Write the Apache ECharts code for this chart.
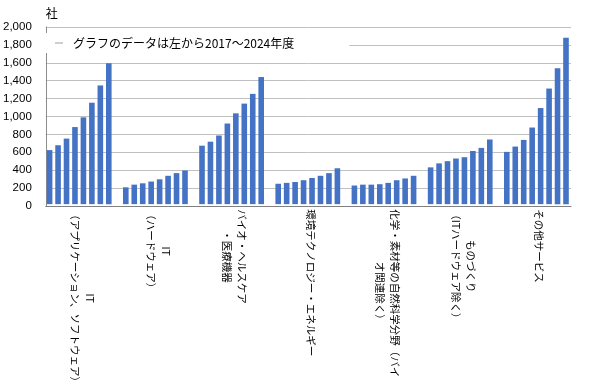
<!DOCTYPE html>
<html>
<head>
<meta charset="utf-8">
<script src="https://cdn.jsdelivr.net/npm/echarts/dist/echarts.min.js"></script>
<style>
html,body{margin:0;padding:0;background:#fff;}
#chart{width:600px;height:390px;}
</style>
</head>
<body>
<div id="chart"></div>
<script>
// ---- data ----
const categories = [
  'IT\n（アプリケーション、ソフトウェア）',
  'IT\n（ハードウェア）',
  'バイオ・ヘルスケア\n・医療機器',
  '環境テクノロジー・エネルギー',
  '化学・素材等の自然科学分野（バイ\nオ関連除く）',
  'ものづくり\n（ITハードウェア除く）',
  'その他サービス'
];
const years = ['2017', '2018', '2019', '2020', '2021', '2022', '2023', '2024'];
const itSoftware = [610, 665, 740, 870, 980, 1145, 1340, 1590];
const itHardware = [190, 220, 235, 255, 280, 320, 350, 380];
const bioHealth = [660, 705, 775, 910, 1025, 1135, 1245, 1435];
const envEnergy = [230, 240, 250, 270, 295, 320, 350, 405];
const chemMaterial = [210, 220, 220, 225, 240, 270, 290, 320];
const monozukuri = [415, 460, 485, 515, 530, 600, 635, 730];
const otherService = [590, 650, 725, 865, 1085, 1305, 1535, 1880];
const legendLabel = 'グラフのデータは左から2017～2024年度';
const unitLabel = '社';
const yMin = 0, yMax = 2000, yStep = 200;

const valuesByCategory = [itSoftware, itHardware, bioHealth, envEnergy, chemMaterial, monozukuri, otherService];

const JP = "'Noto Sans CJK JP', 'Noto Sans', sans-serif";
const barColor = '#4472c4';

const barSeries = years.map((y, j) => ({
  type: 'bar',
  name: y,
  xAxisIndex: 1,
  yAxisIndex: 1,
  data: valuesByCategory.map(v => v[j]),
  barWidth: 5.6,
  barGap: '51%',
  itemStyle: { color: barColor },
  emphasis: { disabled: true }
}));

const chart = echarts.init(document.getElementById('chart'), null, { renderer: 'canvas' });
chart.setOption({
  backgroundColor: '#ffffff',
  animation: false,
  legend: {
    left: 45,
    top: 33,
    padding: [4, 55, 4, 10],
    backgroundColor: '#ffffff',
    itemWidth: 8,
    itemHeight: 1.5,
    data: [{ name: legendLabel, icon: 'rect', itemStyle: { color: '#bfbfbf' } }],
    textStyle: { fontFamily: JP, fontSize: 12, color: '#000', padding: [0, 0, 0, 5] },
    selectedMode: false
  },
  grid: [
    { left: 45, right: 29, top: 27, bottom: 184 },
    { left: 41.1, right: 25.5, top: 27, bottom: 184 }
  ],
  xAxis: [
    {
      gridIndex: 0, type: 'category', data: categories,
      axisLine: { show: true, lineStyle: { color: '#7f7f7f', width: 1 } },
      axisTick: { show: false }, axisLabel: { show: false }, splitLine: { show: false }
    },
    {
      gridIndex: 1, type: 'category', data: categories,
      axisLine: { show: false }, axisTick: { show: false }, splitLine: { show: false },
      axisLabel: {
        interval: 0,
        rotate: -90,
        margin: 5,
        padding: [0, 0, 6, 0],
        formatter: v => v.split('\n').map(l => '{a|' + l + '}').join('\n'),
        rich: {
          a: { align: 'center', fontFamily: JP, fontSize: 10.5, lineHeight: 15, color: '#000' }
        }
      }
    }
  ],
  yAxis: [
    {
      gridIndex: 0, type: 'value', min: yMin, max: yMax, interval: yStep,
      name: unitLabel, nameLocation: 'end', nameGap: 14,
      nameTextStyle: { fontFamily: JP, fontSize: 12, color: '#000', align: 'left', verticalAlign: 'middle' },
      axisLine: { show: true, lineStyle: { color: '#8c8c8c', width: 1 } },
      axisTick: { show: false },
      axisLabel: {
        margin: 14, fontSize: 11.5, color: '#000', fontFamily: "'Liberation Sans', Arial, sans-serif",
        formatter: v => String(v).replace(/\B(?=(\d{3})+(?!\d))/g, ',')
      },
      splitLine: { show: true, lineStyle: { color: '#c0c0c0', width: 1 } }
    },
    { gridIndex: 1, type: 'value', min: yMin, max: yMax, interval: yStep, show: false }
  ],
  series: [
    {
      type: 'line', name: legendLabel, xAxisIndex: 0, yAxisIndex: 0, data: [],
      symbol: 'none', lineStyle: { color: '#bfbfbf' }, itemStyle: { color: '#bfbfbf' }
    }
  ].concat(barSeries)
});
</script>
</body>
</html>
